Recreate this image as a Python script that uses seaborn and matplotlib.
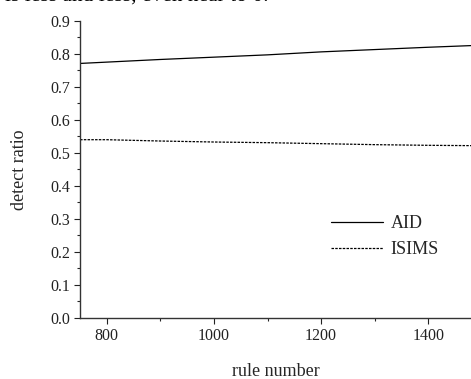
import matplotlib
matplotlib.use("Agg")
import matplotlib.pyplot as plt
import seaborn as sns
import pandas as pd
from matplotlib.ticker import MultipleLocator

rule_number = [750, 800, 900, 1000, 1100, 1200, 1300, 1400, 1480]
aid = [0.771, 0.775, 0.783, 0.790, 0.797, 0.806, 0.813, 0.820, 0.825]
isims = [0.540, 0.540, 0.536, 0.533, 0.531, 0.528, 0.525, 0.523, 0.522]

df = pd.DataFrame({
    "rule number": rule_number * 2,
    "detect ratio": aid + isims,
    "method": ["AID"] * len(aid) + ["ISIMS"] * len(isims),
})

sns.set_theme(style="white")
plt.rcParams["font.family"] = ["Liberation Serif", "DejaVu Serif"]

fig = plt.figure(figsize=(4.71, 3.79), dpi=100)
ax = fig.add_axes([0.170, 0.161, 0.830, 0.784])

sns.lineplot(data=df, x="rule number", y="detect ratio", hue="method",
             style="method", palette=["black", "black"],
             dashes={"AID": "", "ISIMS": (2, 1)}, linewidth=0.9, ax=ax)

ax.set_xlim(750, 1480)
ax.set_ylim(0, 0.9)
ax.xaxis.set_major_locator(MultipleLocator(200))
ax.xaxis.set_minor_locator(MultipleLocator(100))
ax.yaxis.set_major_locator(MultipleLocator(0.1))
ax.yaxis.set_minor_locator(MultipleLocator(0.05))
ax.yaxis.set_major_formatter(matplotlib.ticker.FormatStrFormatter("%.1f"))
ax.tick_params(which="major", direction="out", length=4, width=0.8,
               labelsize=11.5, colors="#222222", bottom=True, left=True, pad=3)
ax.tick_params(which="minor", direction="out", length=2, width=0.8,
               bottom=True, left=True)
for s in ["top", "right"]:
    ax.spines[s].set_visible(False)
for s in ["left", "bottom"]:
    ax.spines[s].set_color("#333333")
    ax.spines[s].set_linewidth(1.0)

ax.set_xlabel("rule number", fontsize=13, labelpad=14)
ax.set_ylabel("detect ratio", fontsize=13, labelpad=16)

leg = ax.legend(title=None, frameon=False, fontsize=13,
                loc="upper left", bbox_to_anchor=(0.60, 0.40),
                handlelength=2.9, handletextpad=0.4, labelspacing=0.5)

fig.text(5 / 471, 1 - 1 / 379, "is less and less, even near to 0.",
         fontsize=15.5, va="baseline", ha="left", color="black")

fig.savefig("out.png", dpi=100)
